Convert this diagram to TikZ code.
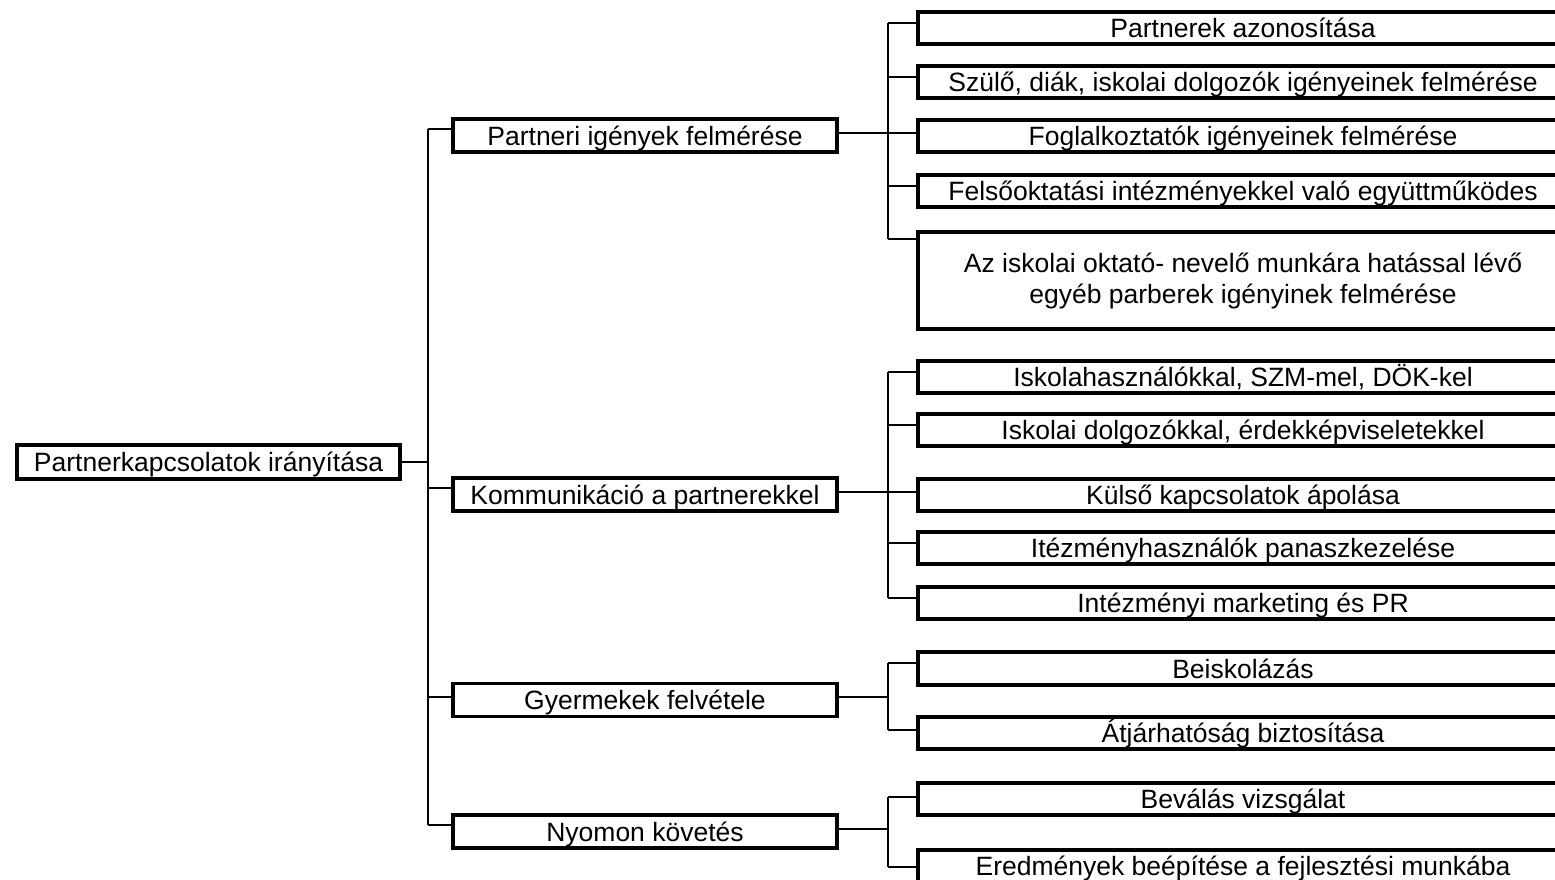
\documentclass[tikz,border=0pt]{standalone}
\usepackage{fontspec}
\setmainfont{Liberation Sans}
\begin{document}
\begin{tikzpicture}[x=1pt,y=-1pt,
  box/.style={draw, line width=3.5pt, inner sep=0pt, align=center,
    font=\fontsize{26.5}{31}\selectfont},
  oneline/.style={box, text height=19.5pt, text depth=0pt},
  leaf/.style={oneline, minimum width=650pt, minimum height=32pt},
  mid/.style={oneline, minimum width=384pt, minimum height=33pt},
  link/.style={line width=1.8pt}]
\clip (0,0) rectangle (1555,880);
\fill[white] (0,0) rectangle (1555,880);

% root
\node[oneline, minimum width=383pt, minimum height=34pt] (root) at (208.5,462) {Partnerkapcsolatok irányítása};

% second level
\node[mid] (m1) at (645,135.5) {Partneri igények felmérése};
\node[mid] (m2) at (645,494.5) {Kommunikáció a partnerekkel};
\node[mid] (m3) at (645,700) {Gyermekek felvétele};
\node[mid] (m4) at (645,831.5) {Nyomon követés};

% leaves
\node[leaf] (l1) at (1243,28) {Partnerek azonosítása};
\node[leaf] (l2) at (1243,82) {Szülő, diák, iskolai dolgozók igényeinek felmérése};
\node[leaf] (l3) at (1243,136) {Foglalkoztatók igényeinek felmérése};
\node[leaf] (l4) at (1243,191) {Felsőoktatási intézményekkel való együttműködes};
\node[box, minimum width=650pt, minimum height=97pt] (l5) at (1243,280.5) {Az iskolai oktató- nevelő munkára hatással lévő\\egyéb parberek igényinek felmérése};
\node[leaf] (l6) at (1243,377) {Iskolahasználókkal, SZM-mel, DÖK-kel};
\node[leaf] (l7) at (1243,430) {Iskolai dolgozókkal, érdekképviseletekkel};
\node[leaf] (l8) at (1243,495) {Külső kapcsolatok ápolása};
\node[leaf] (l9) at (1243,548) {Itézményhasználók panaszkezelése};
\node[leaf] (l10) at (1243,603) {Intézményi marketing és PR};
\node[leaf, minimum height=33pt] (l11) at (1243,668.5) {Beiskolázás};
\node[leaf] (l12) at (1243,733) {Átjárhatóság biztosítása};
\node[leaf] (l13) at (1243,799) {Beválás vizsgálat};
\node[leaf] (l14) at (1243,866) {Eredmények beépítése a fejlesztési munkába};

% trunk from the root to the second level
\coordinate (tr) at (428,462);
\coordinate (t1) at (428,129);
\coordinate (t2) at (428,488);
\coordinate (t3) at (428,697);
\coordinate (t4) at (428,825);
\draw[link] (root.east) -- (tr);
\draw[link] (t1) -- (t4);
\foreach \i in {1,2,3,4} \draw[link] (t\i) -- (t\i -| m\i.west);

% group 1 bus
\coordinate (a1) at (888,23);
\coordinate (a2) at (888,77);
\coordinate (a3) at (888,133);
\coordinate (a4) at (888,186);
\coordinate (a5) at (888,239);
\draw[link] (a1) -- (a5);
\draw[link] (a3 -| m1.east) -- (a3 -| l3.west);
\foreach \i in {1,2,4,5} \draw[link] (a\i) -- (a\i -| l\i.west);

% group 2 bus
\coordinate (a6) at (888,372);
\coordinate (a7) at (888,425);
\coordinate (a8) at (888,492);
\coordinate (a9) at (888,543);
\coordinate (a10) at (888,598);
\draw[link] (a6) -- (a10);
\draw[link] (a8 -| m2.east) -- (a8 -| l8.west);
\foreach \i in {6,7,9,10} \draw[link] (a\i) -- (a\i -| l\i.west);

% group 3 bus
\coordinate (g3) at (888,697);
\coordinate (a11) at (888,663);
\coordinate (a12) at (888,730);
\draw[link] (a11) -- (a12);
\draw[link] (g3 -| m3.east) -- (g3);
\foreach \i in {11,12} \draw[link] (a\i) -- (a\i -| l\i.west);

% group 4 bus
\coordinate (g4) at (888,829);
\coordinate (a13) at (888,797);
\coordinate (a14) at (888,867);
\draw[link] (a13) -- (a14);
\draw[link] (g4 -| m4.east) -- (g4);
\foreach \i in {13,14} \draw[link] (a\i) -- (a\i -| l\i.west);
\end{tikzpicture}
\end{document}
